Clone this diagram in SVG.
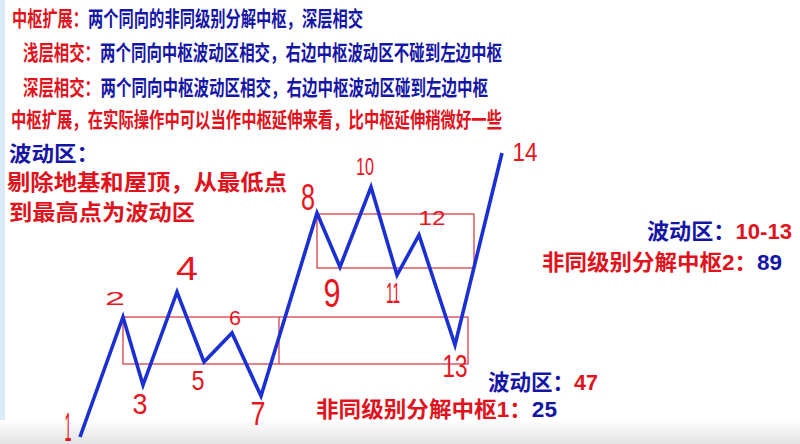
<svg xmlns="http://www.w3.org/2000/svg" width="800" height="444" viewBox="0 0 800 444">
<defs>
<linearGradient id="bottomShade" x1="0" y1="0" x2="0" y2="1">
<stop offset="0" stop-color="#ffffff"/>
<stop offset="1" stop-color="#e2e2e2"/>
</linearGradient>
<style>
.cjk{font-family:"Noto Sans CJK SC","Noto Sans CJK TC",sans-serif;font-weight:bold;}
.num{font-family:"Liberation Sans",Arial,sans-serif;font-weight:bold;}
.r{fill:#e0121c;}
.b{fill:#1616a6;}
.hw{font-family:"Liberation Sans",Arial,sans-serif;font-weight:normal;fill:#e8141e;text-anchor:middle;}
.box{fill:none;stroke:#d8404c;stroke-width:1.3;}
.wave{fill:none;stroke:#1a30d2;stroke-width:3.6;stroke-linejoin:miter;stroke-linecap:butt;}
</style>
</defs>
<rect x="0" y="0" width="800" height="444" fill="#ffffff"/>
<rect x="0" y="0" width="5" height="444" fill="#dbe8f5"/>
<rect x="0" y="420" width="800" height="24" fill="url(#bottomShade)"/>

<g id="header-text">
<text class="cjk r" x="12" y="25.5" font-size="21" textLength="76" lengthAdjust="spacingAndGlyphs">中枢扩展：</text>
<text class="cjk b" x="88" y="25.5" font-size="21" textLength="275" lengthAdjust="spacingAndGlyphs">两个同向的非同级别分解中枢，深层相交</text>
<text class="cjk r" x="23" y="60" font-size="21" textLength="77" lengthAdjust="spacingAndGlyphs">浅层相交：</text>
<text class="cjk b" x="100" y="60" font-size="21" textLength="402" lengthAdjust="spacingAndGlyphs">两个同向中枢波动区相交，右边中枢波动区不碰到左边中枢</text>
<text class="cjk r" x="23" y="95" font-size="21" textLength="77" lengthAdjust="spacingAndGlyphs">深层相交：</text>
<text class="cjk b" x="100.5" y="95" font-size="21" textLength="387.5" lengthAdjust="spacingAndGlyphs">两个同向中枢波动区相交，右边中枢波动区碰到左边中枢</text>
<text class="cjk r" x="11" y="126.5" font-size="21" textLength="491" lengthAdjust="spacingAndGlyphs">中枢扩展，在实际操作中可以当作中枢延伸来看，比中枢延伸稍微好一些</text>
</g>

<g id="note-text">
<text class="cjk b" x="9" y="161" font-size="21" textLength="90" lengthAdjust="spacingAndGlyphs">波动区：</text>
<text class="cjk r" x="7" y="190" font-size="22" textLength="280" lengthAdjust="spacingAndGlyphs">剔除地基和屋顶，从最低点</text>
<text class="cjk r" x="9" y="220" font-size="22" textLength="186" lengthAdjust="spacingAndGlyphs">到最高点为波动区</text>
</g>

<g id="center-boxes">
<rect class="box" x="123" y="317" width="345" height="47"/>
<line class="box" x1="279" y1="317" x2="279" y2="364"/>
<rect class="box" x="317" y="214" width="157" height="54"/>
</g>

<g id="connectors">
<polyline class="wave" points="80,437 123,317 143,385 177,292 204,362 232,333 261,396 317,213 340,267 371,187 397,275 419,235 455,345 502,153"/>
</g>

<g id="point-labels">
<text class="hw" x="68" y="441" font-size="40" textLength="7" lengthAdjust="spacingAndGlyphs">1</text>
<text class="hw" x="115" y="305" font-size="19" textLength="20" lengthAdjust="spacingAndGlyphs">2</text>
<text class="hw" x="140" y="414" font-size="30" textLength="15" lengthAdjust="spacingAndGlyphs">3</text>
<text class="hw" x="187" y="280" font-size="34" textLength="22" lengthAdjust="spacingAndGlyphs">4</text>
<text class="hw" x="198" y="390" font-size="28" textLength="13" lengthAdjust="spacingAndGlyphs">5</text>
<text class="hw" x="235" y="325" font-size="21" textLength="12" lengthAdjust="spacingAndGlyphs">6</text>
<text class="hw" x="258" y="425" font-size="34" textLength="15" lengthAdjust="spacingAndGlyphs">7</text>
<text class="hw" x="308" y="210" font-size="37" textLength="14" lengthAdjust="spacingAndGlyphs">8</text>
<text class="hw" x="332" y="307" font-size="40" textLength="17" lengthAdjust="spacingAndGlyphs">9</text>
<text class="hw" x="365" y="175" font-size="24" textLength="18" lengthAdjust="spacingAndGlyphs">10</text>
<text class="hw" x="393" y="303" font-size="30" textLength="14" lengthAdjust="spacingAndGlyphs">11</text>
<text class="hw" x="432" y="225" font-size="21" textLength="27" lengthAdjust="spacingAndGlyphs">12</text>
<text class="hw" x="455" y="377" font-size="32" textLength="25" lengthAdjust="spacingAndGlyphs">13</text>
<text class="hw" x="525" y="161" font-size="25" textLength="25" lengthAdjust="spacingAndGlyphs">14</text>
</g>

<g id="zone-labels">
<text x="647" y="239" font-size="22" textLength="145" lengthAdjust="spacingAndGlyphs"><tspan class="cjk b">波动区：</tspan><tspan class="num r">10-13</tspan></text>
<text x="542" y="270" font-size="22" textLength="240" lengthAdjust="spacingAndGlyphs"><tspan class="cjk r">非同级别分解中枢</tspan><tspan class="num r">2</tspan><tspan class="cjk r">：</tspan><tspan class="num b">89</tspan></text>
<text x="488" y="390" font-size="22" textLength="110" lengthAdjust="spacingAndGlyphs"><tspan class="cjk b">波动区：</tspan><tspan class="num r">47</tspan></text>
<text x="316" y="417" font-size="22" textLength="241" lengthAdjust="spacingAndGlyphs"><tspan class="cjk r">非同级别分解中枢</tspan><tspan class="num r">1</tspan><tspan class="cjk r">：</tspan><tspan class="num b">25</tspan></text>
</g>
</svg>
